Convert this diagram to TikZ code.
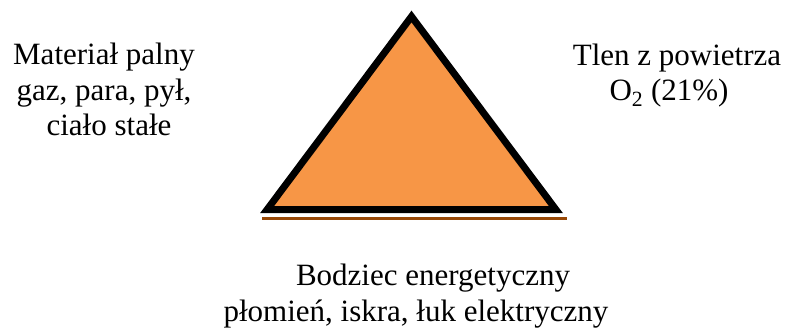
\documentclass[tikz,border=0pt]{standalone}
\usepackage{fontspec}
\setmainfont{Liberation Serif}
\usepackage{xcolor}
\usepackage{tikz}
\usetikzlibrary{positioning}
\definecolor{fire}{RGB}{247,150,70}
\definecolor{ember}{RGB}{152,72,6}

\begin{document}
\begin{tikzpicture}[x=1pt, y=-1pt, font=\fontsize{31}{35.5}\selectfont]
  \useasboundingbox (0,0) rectangle (787,329);
  \tikzset{label/.style={align=center, anchor=base, inner sep=0pt}}
  % fire triangle
  \coordinate (lewy) at (267,209.7);
  \coordinate (szczyt) at (411.5,16.5);
  \coordinate (prawy) at (556,209.7);
  \coordinate (cienL) at (262,218.3);
  \coordinate (cienP) at (567,218.3);
  \draw[ember, line width=3] (cienL) -- (cienP);
  \fill[fire, draw=black, line width=7, line join=miter] (lewy) -- (szczyt) -- (prawy) -- cycle;
  % the three sides (base = last line)
  \node[label] (paliwo) at (104,135.5) {Materiał palny\\gaz, para, pył,\\\hspace*{10pt}ciało stałe};
  \node[label] (tlen) at (677,100.5) {Tlen z powietrza\\O\textsubscript{2} (21\%)\hspace*{16pt}};
  \node[label] (energia) at (416,321) {\hspace*{34pt}Bodziec energetyczny\\płomień, iskra, łuk elektryczny};
\end{tikzpicture}
\end{document}
